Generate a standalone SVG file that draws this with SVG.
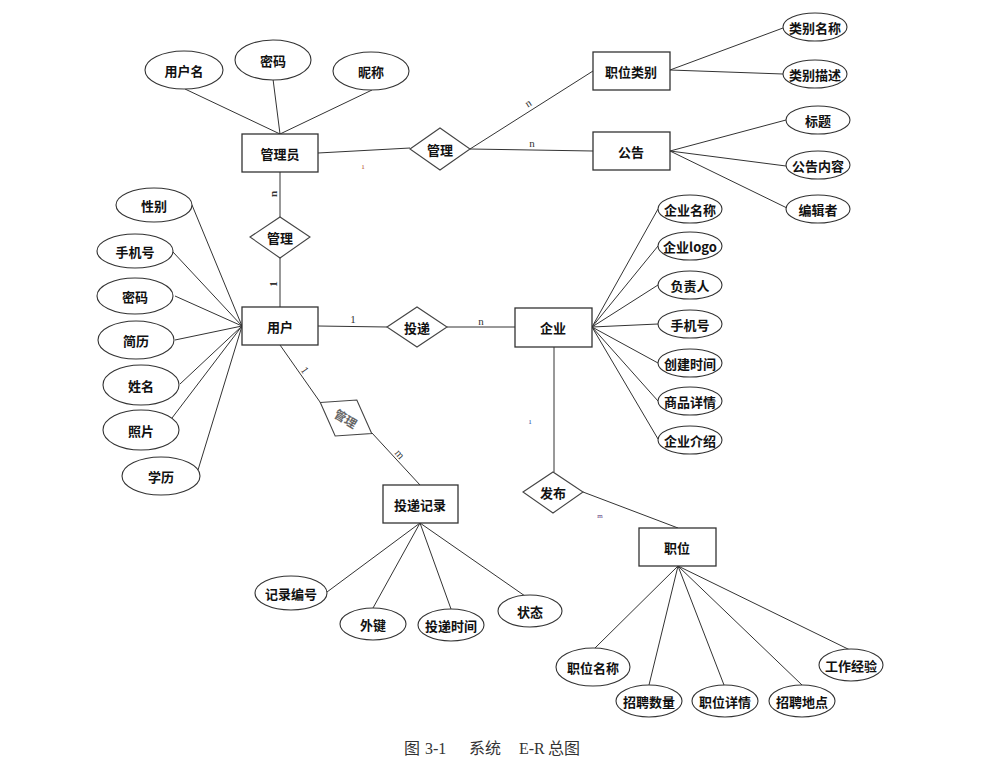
<svg xmlns="http://www.w3.org/2000/svg" width="1004" height="770" viewBox="0 0 1004 770">
<defs>
<style>
.bg{fill:#ffffff}
.ent{fill:#ffffff;stroke:#333333;stroke-width:1.3}
.rel{fill:#ffffff;stroke:#444444;stroke-width:1.1}
.att{fill:#ffffff;stroke:#333333;stroke-width:1.1}
.ln{stroke:#333333;stroke-width:1;fill:none}
.t{font-family:"Noto Sans CJK SC","Liberation Sans",sans-serif;font-size:13px;font-weight:bold;fill:#111111;text-anchor:middle;dominant-baseline:central}
.c{font-family:"Liberation Serif",serif;font-size:11px;fill:#333333;text-anchor:middle;dominant-baseline:central}
.cs{font-family:"Liberation Serif",serif;font-size:7px;text-anchor:middle;dominant-baseline:central}
.cap{font-family:"Liberation Serif","Noto Sans CJK SC",serif;font-size:16px;fill:#333333}
</style>
</defs>
<rect class="bg" x="0" y="0" width="1004" height="770"/>
<g id="connectors">
<!-- 管理员 attributes -->
<line class="ln" x1="185" y1="89" x2="280" y2="134"/>
<line class="ln" x1="273" y1="79" x2="280" y2="134"/>
<line class="ln" x1="372" y1="90" x2="280" y2="134"/>
<!-- 管理员 - 管理 -->
<line class="ln" x1="318" y1="153" x2="410" y2="148"/>
<line class="ln" x1="470" y1="149" x2="593" y2="71"/>
<line class="ln" x1="470" y1="149" x2="593" y2="151"/>
<!-- 职位类别 attrs -->
<line class="ln" x1="670" y1="70" x2="783" y2="28"/>
<line class="ln" x1="670" y1="70" x2="783" y2="74"/>
<!-- 公告 attrs -->
<line class="ln" x1="670" y1="151" x2="786" y2="120"/>
<line class="ln" x1="670" y1="151" x2="786" y2="166"/>
<line class="ln" x1="670" y1="151" x2="787" y2="208"/>
<!-- 管理员 - 管理 - 用户 vertical -->
<line class="ln" x1="280" y1="172" x2="280" y2="217"/>
<line class="ln" x1="280" y1="258" x2="280" y2="307"/>
<!-- 用户 attrs -->
<line class="ln" x1="192" y1="205" x2="242" y2="326"/>
<line class="ln" x1="173" y1="252" x2="242" y2="326"/>
<line class="ln" x1="175" y1="296" x2="242" y2="326"/>
<line class="ln" x1="175" y1="340" x2="242" y2="326"/>
<line class="ln" x1="180" y1="384" x2="242" y2="326"/>
<line class="ln" x1="172" y1="418" x2="242" y2="326"/>
<line class="ln" x1="198" y1="470" x2="242" y2="326"/>
<!-- 用户 - 投递 - 企业 -->
<line class="ln" x1="318" y1="326" x2="387" y2="327"/>
<line class="ln" x1="447" y1="327" x2="515" y2="327"/>
<!-- 企业 attrs -->
<line class="ln" x1="592" y1="327" x2="658" y2="209"/>
<line class="ln" x1="592" y1="327" x2="658" y2="246"/>
<line class="ln" x1="592" y1="327" x2="658" y2="285"/>
<line class="ln" x1="592" y1="327" x2="658" y2="324"/>
<line class="ln" x1="592" y1="327" x2="658" y2="363"/>
<line class="ln" x1="592" y1="327" x2="658" y2="401"/>
<line class="ln" x1="592" y1="327" x2="658" y2="439"/>
<!-- 企业 - 发布 - 职位 -->
<line class="ln" x1="554" y1="347" x2="554" y2="472"/>
<line class="ln" x1="583" y1="492" x2="678" y2="528"/>
<!-- 职位 attrs -->
<line class="ln" x1="678" y1="566" x2="595" y2="648"/>
<line class="ln" x1="678" y1="566" x2="649" y2="685"/>
<line class="ln" x1="678" y1="566" x2="724" y2="685"/>
<line class="ln" x1="678" y1="566" x2="802" y2="685"/>
<line class="ln" x1="678" y1="566" x2="850" y2="650"/>
<!-- 用户 - 管理 - 投递记录 -->
<line class="ln" x1="280" y1="345" x2="320" y2="402"/>
<line class="ln" x1="372" y1="433" x2="420" y2="485"/>
<!-- 投递记录 attrs -->
<line class="ln" x1="420" y1="523" x2="327" y2="592"/>
<line class="ln" x1="420" y1="523" x2="373" y2="608"/>
<line class="ln" x1="420" y1="523" x2="451" y2="609"/>
<line class="ln" x1="420" y1="523" x2="525" y2="596"/>
<!-- cardinality labels -->
<text class="cs" x="363" y="167" fill="#b04010">1</text>
<text class="c" x="528" y="103" transform="rotate(-32 528 103)">n</text>
<text class="c" x="532" y="143">n</text>
<text class="c" x="273" y="194" transform="rotate(-90 273 194)" font-weight="bold">n</text>
<text class="c" x="273" y="284" transform="rotate(-90 273 284)" font-weight="bold">1</text>
<text class="c" x="353" y="319" font-size="12">1</text>
<text class="c" x="481" y="321" font-size="12">n</text>
<text class="cs" x="530" y="422" fill="#2040a0">1</text>
<text class="cs" x="600" y="516" fill="#604080">m</text>
<text class="c" x="305" y="370" transform="rotate(55 305 370)">1</text>
<text class="c" x="400" y="454" transform="rotate(50 400 454)">m</text>
</g>
<!-- entities -->
<g id="admin"><rect class="ent" x="242" y="134" width="76" height="38"/><text class="t" x="280" y="153">管理员</text></g>
<g id="jobcat"><rect class="ent" x="593" y="52" width="77" height="38"/><text class="t" x="631" y="71">职位类别</text></g>
<g id="notice"><rect class="ent" x="593" y="132" width="77" height="38"/><text class="t" x="631" y="151">公告</text></g>
<g id="user"><rect class="ent" x="242" y="307" width="76" height="38"/><text class="t" x="280" y="326">用户</text></g>
<g id="company"><rect class="ent" x="515" y="308" width="77" height="39"/><text class="t" x="553" y="327">企业</text></g>
<g id="record"><rect class="ent" x="383" y="485" width="75" height="38"/><text class="t" x="420" y="504">投递记录</text></g>
<g id="job"><rect class="ent" x="639" y="528" width="77" height="38"/><text class="t" x="677" y="547">职位</text></g>
<!-- relationships -->
<g id="rel-manage-top"><polygon class="rel" points="410,149 440,128 470,149 440,170"/><text class="t" x="440" y="149">管理</text></g>
<g id="rel-manage-left"><polygon class="rel" points="250,237 280,217 310,237 280,258"/><text class="t" x="280" y="237">管理</text></g>
<g id="rel-deliver"><polygon class="rel" points="387,327 417,307 447,327 417,347"/><text class="t" x="417" y="327">投递</text></g>
<g id="rel-publish"><polygon class="rel" points="523,492 553,472 583,492 553,513"/><text class="t" x="553" y="492">发布</text></g>
<g id="rel-manage-rot" transform="translate(346,418) rotate(31)"><polygon class="rel" points="-30,0 0,-21 30,0 0,21"/><text class="t" x="0" y="0" style="fill:#666666;font-size:12px">管理</text></g>
<!-- attributes -->
<g id="a-username"><ellipse class="att" cx="184" cy="70" rx="39" ry="19"/><text class="t" x="184" y="70">用户名</text></g>
<g id="a-adminpwd"><ellipse class="att" cx="273" cy="60" rx="38" ry="20"/><text class="t" x="273" y="60">密码</text></g>
<g id="a-nick"><ellipse class="att" cx="371" cy="71" rx="38" ry="19"/><text class="t" x="371" y="71">昵称</text></g>
<g id="a-catname"><ellipse class="att" cx="815" cy="27" rx="32" ry="14"/><text class="t" x="815" y="27">类别名称</text></g>
<g id="a-catdesc"><ellipse class="att" cx="815" cy="74" rx="32" ry="14"/><text class="t" x="815" y="74">类别描述</text></g>
<g id="a-title"><ellipse class="att" cx="818" cy="120" rx="32" ry="14"/><text class="t" x="818" y="120">标题</text></g>
<g id="a-content"><ellipse class="att" cx="818" cy="165" rx="32" ry="14"/><text class="t" x="818" y="165">公告内容</text></g>
<g id="a-editor"><ellipse class="att" cx="818" cy="209" rx="32" ry="14"/><text class="t" x="818" y="209">编辑者</text></g>
<g id="a-gender"><ellipse class="att" cx="154" cy="205" rx="38" ry="17"/><text class="t" x="154" y="205">性别</text></g>
<g id="a-phone"><ellipse class="att" cx="135" cy="251" rx="38" ry="17"/><text class="t" x="135" y="251">手机号</text></g>
<g id="a-userpwd"><ellipse class="att" cx="135" cy="296" rx="38" ry="18"/><text class="t" x="135" y="296">密码</text></g>
<g id="a-resume"><ellipse class="att" cx="136" cy="340" rx="38" ry="19"/><text class="t" x="136" y="340">简历</text></g>
<g id="a-name"><ellipse class="att" cx="141" cy="385" rx="38" ry="20"/><text class="t" x="141" y="385">姓名</text></g>
<g id="a-photo"><ellipse class="att" cx="141" cy="430" rx="38" ry="20"/><text class="t" x="141" y="430">照片</text></g>
<g id="a-edu"><ellipse class="att" cx="161" cy="476" rx="39" ry="19"/><text class="t" x="161" y="476">学历</text></g>
<g id="a-cname"><ellipse class="att" cx="690" cy="209" rx="32" ry="14"/><text class="t" x="690" y="209">企业名称</text></g>
<g id="a-clogo"><ellipse class="att" cx="690" cy="246" rx="32" ry="14"/><text class="t" x="690" y="246">企业logo</text></g>
<g id="a-cowner"><ellipse class="att" cx="690" cy="285" rx="32" ry="14"/><text class="t" x="690" y="285">负责人</text></g>
<g id="a-cphone"><ellipse class="att" cx="690" cy="324" rx="32" ry="14"/><text class="t" x="690" y="324">手机号</text></g>
<g id="a-ctime"><ellipse class="att" cx="690" cy="363" rx="32" ry="14"/><text class="t" x="690" y="363">创建时间</text></g>
<g id="a-cgoods"><ellipse class="att" cx="690" cy="401" rx="32" ry="14"/><text class="t" x="690" y="401">商品详情</text></g>
<g id="a-cintro"><ellipse class="att" cx="690" cy="440" rx="32" ry="14"/><text class="t" x="690" y="440">企业介绍</text></g>
<g id="a-recno"><ellipse class="att" cx="291" cy="593" rx="36" ry="17"/><text class="t" x="291" y="593">记录编号</text></g>
<g id="a-fk"><ellipse class="att" cx="373" cy="624" rx="33" ry="16"/><text class="t" x="373" y="624">外键</text></g>
<g id="a-dtime"><ellipse class="att" cx="451" cy="625" rx="33" ry="16"/><text class="t" x="451" y="625">投递时间</text></g>
<g id="a-status"><ellipse class="att" cx="530" cy="611" rx="32" ry="16"/><text class="t" x="530" y="611">状态</text></g>
<g id="a-jname"><ellipse class="att" cx="593" cy="667" rx="37" ry="19"/><text class="t" x="593" y="667">职位名称</text></g>
<g id="a-jnum"><ellipse class="att" cx="649" cy="701" rx="33" ry="16"/><text class="t" x="649" y="701">招聘数量</text></g>
<g id="a-jdetail"><ellipse class="att" cx="725" cy="701" rx="33" ry="16"/><text class="t" x="725" y="701">职位详情</text></g>
<g id="a-jplace"><ellipse class="att" cx="802" cy="701" rx="33" ry="16"/><text class="t" x="802" y="701">招聘地点</text></g>
<g id="a-jexp"><ellipse class="att" cx="851" cy="665" rx="32" ry="16"/><text class="t" x="851" y="665">工作经验</text></g>
<!-- caption -->
<text class="cap" y="754"><tspan x="404">图</tspan><tspan x="425">3-1</tspan><tspan x="469">系统</tspan><tspan x="519">E-R</tspan><tspan x="548">总图</tspan></text>
</svg>
